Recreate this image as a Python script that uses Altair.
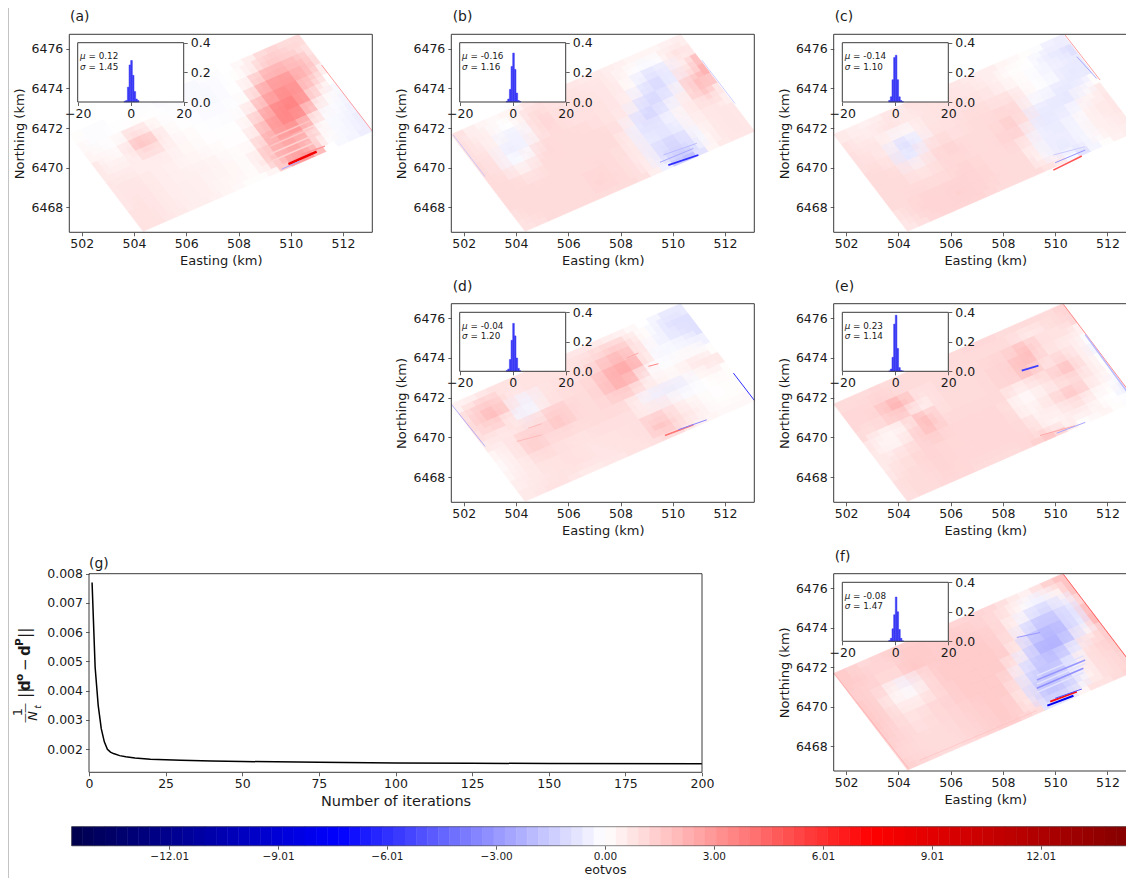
import altair as alt
import numpy as np
import pandas as pd

W, H = 1118, 870
FONT = "DejaVu Sans"
INK = "#3a3a3a"

# ---- values -----------------------------------------------------------------
corner_left = (501.525, 6471.68)
corner_top = (510.30, 6476.73)
corner_bottom = (504.35, 6466.79)
x_domain = [501.525, 513.12]
y_domain = [6466.74, 6476.73]
x_ticks = [502, 504, 506, 508, 510, 512]
y_ticks = [6468, 6470, 6472, 6474, 6476]

a_rows = [
 [.1,-.1,-.1,0,0,-.1,-.1,-.2,-.1,-.2,-.2,-.1,-.1,0,.2,.5,1,1.2,1,1],
 [.2,-.1,-.1,0,.1,.1,0,-.1,-.1,-.2,-.2,-.2,-.1,0,.2,.7,1.5,1.5,1.3,.8],
 [.3,.2,0,.4,1.5,.6,.2,0,-.1,-.1,-.2,-.2,-.1,0,.8,2.2,2.5,2.3,2,1],
 [.6,.3,.2,1,2,1.2,.3,.1,0,-.1,-.1,-.1,0,.2,1.8,2.8,3,3,1.8,.5],
 [.6,.5,.4,.5,.8,.6,.3,.2,.1,0,-.1,-.1,.2,1,2.5,3,3.5,2.8,1,0],
 [.7,.7,.6,.5,.4,.5,.3,.2,.1,.1,0,0,.5,2,3,3.8,3.5,2.5,.3,-.2],
 [.7,.7,.7,.6,.5,.4,.3,.3,.2,.1,.1,.1,1,2.5,3.2,3.5,2.8,.8,-.1,-.3],
 [.7,.8,.7,.6,.5,.4,.4,.4,.3,.2,.1,.3,1.8,2.5,2.8,2.8,1.2,0,-.2,-.4],
 [.8,.8,.7,.6,.5,.5,.4,.3,.3,.2,.1,.8,2,2.4,2.5,1.8,.3,-.1,-.3,-.5],
 [.8,.8,.7,.6,.5,.5,.4,.3,.2,.1,.1,.3,1.5,2.8,3,2,0,-.2,-.3,-.5],
]
b_rows = [
 [.8,.5,.3,.2,.3,.4,.7,.8,.8,.7,.7,.6,.6,.5,.4,.3,.3,.3,.4,.5],
 [.9,.6,.4,-.1,0,.5,1.1,.9,.8,.8,.8,.7,.7,.5,.2,-.1,-.2,.1,.8,.7],
 [.9,.8,.2,-.4,-.5,.3,1.3,1,.9,.8,.8,.8,.7,.5,0,-.8,-1,-.6,.5,1.8],
 [1,.9,-.3,-.6,-.2,.7,1,1,.9,.9,.9,.8,.7,.4,-.6,-1,-1,-.3,1.2,2.2],
 [1,.9,-.2,-.1,.5,1.2,1,1,1,1,.9,.8,.6,-.5,-1.2,-1,-.5,.4,2,1.6],
 [1,1,.7,.5,1,1,1,1,1,1,1,.9,-.3,-1.2,-1,-.5,.3,.7,1.4,.7],
 [1,1,1,.9,1,1,1,1,1,1,1,.4,-.6,-.8,-.6,-.2,.4,.7,.7,.5],
 [1,1,1,1,1,1,1,1,1.1,1,.9,.6,-.5,-.7,-.8,-.5,.3,.6,.7,.7],
 [.9,1,1,1,1,1,1,1.2,1.1,1,.9,.5,-.6,-1.2,-1.2,-.8,.1,.6,.7,.7],
 [.8,.9,1,1,1,1,1,1,1,1,.9,.5,-.4,-1.5,-1.8,-.8,.3,.6,.7,.7],
]
c_rows = [
 [.6,.5,.4,.5,.7,.6,.8,.8,.7,.7,.7,.6,.5,.5,.3,.2,.1,-.1,-.4,-.5],
 [.8,.6,.5,.7,.8,.6,.7,.8,.8,.8,.7,.7,.6,.4,.1,.1,0,-.4,-.6,-.9],
 [.9,.8,.7,.3,-.2,.2,.7,.8,.8,.9,.9,.8,.7,.5,.2,.1,-.2,-.3,-.5,-.6],
 [.9,.9,.6,-.6,-1.2,-.3,.8,.9,.9,1,1,1,.9,1,.5,0,-.1,-.3,-.7,-.6],
 [1,1,.8,-.7,-.4,.8,1.1,1,.9,1,1,1.1,1.2,1,-.2,-.3,-.5,-.8,-.4,.1],
 [1,1,1,.6,.6,1,1.2,1.2,1,1,1,1.2,1.4,.7,-.7,-.6,-.7,-.6,.2,.6],
 [1,1,1,.9,.9,1,1.1,1.1,1,1,1.1,1.3,1.1,-.3,-.7,-.5,-.4,.1,.6,.7],
 [1,1,1.1,1.1,1,1.1,1.2,1.2,1.1,1,1,1,.4,-.4,-.5,-.5,-.2,.3,.6,.7],
 [.8,1,1.2,1.2,1.2,1.3,1.2,1.2,1.1,1,1,1,.3,-.4,-.6,-.5,-.2,.3,.5,.6],
 [.7,.9,1.1,1.2,1.2,1.2,1.2,1.1,1,1,1,1,.8,.6,-.2,-.8,-.3,.1,.4,.5],
]
d_rows = [
 [.4,.5,.7,.8,.8,.8,.8,.8,.7,.7,.7,.7,.6,.5,.4,.2,0,-.3,-.6,-.6],
 [.9,1.3,1.5,1.2,.6,.8,.8,.8,.8,.8,.9,1,1.2,1.5,1.2,.4,0,-.5,-.9,-.9],
 [1,1.5,2.2,1.2,-.3,-.4,.6,.9,.9,.9,1,1.5,2,2.2,1.5,.3,-.2,-.4,-.7,-.9],
 [.9,1,1,.2,-.5,.2,.9,.9,1,1,1.3,2,2.5,2.5,1.8,0,-.3,-.1,-.2,-.4],
 [.6,.6,.6,1,1,1.2,1.8,1.2,1,1,1.3,2,2.2,1.5,-.1,-.1,0,.2,.2,.1],
 [.3,.5,1,1.5,1.2,1.3,1.6,1.1,1,1,1.1,1.2,1,.5,.6,.3,.3,.5,.8,.6],
 [.2,.4,.9,1.4,1.1,.9,.9,.9,1,1,1,.9,.2,-.4,-.5,-.6,-.4,0,.2,.1],
 [.3,.5,.7,.9,.9,.9,.8,.8,.9,.9,.9,.9,.6,.7,.6,.1,-.1,0,.1,.1],
 [.5,.6,.7,.8,.8,.9,.8,.7,.8,.8,.9,.9,1.8,1.4,.8,.6,.3,.1,.1,.1],
 [.6,.7,.8,.8,.7,.6,.6,.7,.7,.8,.8,.9,1,1,.6,.4,.3,.2,.2,.2],
]
e_rows = [
 [1,1,1,1.1,1,1,1,1,1,1,1,1.1,1.1,1.1,1,1,1,1,1,1.2],
 [1.1,1.1,1.1,1.3,1.1,1,1,1,1,1,1,1,1,1,1,.8,.6,.8,1,1.1],
 [1.1,1.1,1.2,2,2.5,1.2,.6,1,1,1,1,1.1,1.2,1.2,1.6,2.2,1,.9,.7,.4],
 [1,.9,1.1,1.3,1,.3,.7,1,1,1,1,1.1,1.2,1.3,2,1.5,.7,.7,.5,-.1],
 [.7,.3,0,.3,1.3,2.6,.9,1,1,1,1,1.1,1.2,1.2,1.8,.9,.9,1.4,.5,-.3],
 [.6,.4,.4,1,1.6,1.5,1.1,1.1,1.1,1.1,1.1,1.1,.3,.3,.5,1,1.6,1.8,.5,0],
 [.6,.8,1,1.1,1.2,1.2,1.1,1.1,1.1,1.1,1.1,.8,.1,.3,.6,.7,.9,.9,.5,.1],
 [.7,.9,1,1.2,1.2,1.1,1.1,1.1,1.1,1.1,1.1,1,.2,.6,.8,1.4,1.8,1,.3,-.2],
 [.9,1,1,1.1,1.2,1.1,1.1,1.1,1.1,1.1,1.1,1.1,.7,.3,.4,.6,.5,.2,0,-.4],
 [.9,1,1,1.1,1.1,1.1,1,1,1,1,1.1,1.3,1.6,1.2,.5,.1,.2,.3,.1,-.1],
]
f_rows = [
 [1.5,1.3,1.1,1.2,1.3,1.4,1.4,1.4,1.4,1.3,1.2,1.2,1.2,1.1,.9,.6,.4,.8,1.3,1.7],
 [1.5,1.4,1.2,1.2,1.2,1.5,1.5,1.4,1.4,1.4,1.4,1.3,1.2,1,.7,.2,-.3,-.4,.4,1.7],
 [1.4,1.3,1.2,1,1.1,1.7,1.4,1.4,1.4,1.4,1.4,1.4,1.3,1,.2,-.6,-1.3,-1.2,-.6,1.2],
 [1.5,1.3,.8,-.1,-.4,.6,1.3,1.5,1.5,1.5,1.5,1.4,1.3,.8,-.6,-1.6,-1.8,-1.6,-.9,1.8],
 [1.5,1.3,.4,.3,.2,.9,1.3,1.5,1.5,1.5,1.5,1.5,1.3,.4,-1.6,-2,-2.2,-1.8,-.6,2],
 [1.5,1.3,.9,.6,.8,1,1.2,1.4,1.5,1.5,1.5,1.4,.5,-.8,-1.8,-2.4,-2,-1.2,.4,1.4],
 [1.4,1.2,.9,.9,1.1,1.2,1.3,1.4,1.5,1.5,1.5,1,-.4,-1.4,-1.7,-1.6,-1,.2,1.2,1.4],
 [1.3,1.2,1,.9,1,1.1,1.2,1.3,1.4,1.5,1.4,.7,-1,-1.6,-1.7,-1.4,-.2,.8,1.1,1.3],
 [1.2,1.1,1,1,1,1.1,1.2,1.3,1.4,1.5,1.3,.6,-1.3,-1.7,-1.5,-1,.2,.8,1,1.2],
 [1.3,1.2,1.1,1,1,1.1,1.2,1.3,1.4,1.4,1.2,1,-.8,-.8,-.6,.3,.8,.8,1,1.2],
]

# narrow streaks: east start, east end, north start, north end, value, line width
a_streaks = [
 (509.21,510.99,6470.30,6471.31,1.3,1.5),(509.21,510.99,6470.69,6471.70,1.3,1.5),
 (509.21,510.86,6471.09,6472.03,1.6,1.5),(509.21,510.74,6471.50,6472.37,1.8,1.5),
 (509.91,510.99,6470.18,6470.81,8,2.5),(509.65,510.35,6469.92,6470.34,-2.5,1),
 (510.42,511.31,6470.67,6471.09,3,1.5),(511.18,513.12,6475.18,6471.85,3.5,.8),
]
b_streaks = [
 (509.83,510.98,6470.13,6470.64,-6,1.8),(509.51,510.79,6470.27,6470.97,-2.5,1),
 (509.64,510.92,6470.64,6471.23,-2,1),(501.6,502.82,6471.65,6469.55,-2,.7),
 (511.11,512.38,6475.43,6473.24,-2,.7),
]
c_streaks = [
 (509.93,511.02,6469.88,6470.59,5,1.5),(510.0,511.15,6470.25,6470.89,-3,1),
 (509.93,511.15,6470.64,6471.06,-1.5,1),(510.38,511.72,6476.69,6474.42,3.5,.8),
 (510.83,511.59,6475.6,6474.5,-2.5,1),
]
d_streaks = [
 (509.7,510.79,6470.1,6470.64,4,1.5),(510.21,511.3,6470.39,6470.89,-3.5,1),
 (509.07,509.45,6473.58,6473.71,3.5,1),(508.24,508.68,6474.0,6474.25,2.5,1),
 (504.03,504.98,6469.8,6470.13,2,1),(504.47,504.98,6470.47,6470.69,2,1),
 (512.32,513.12,6473.24,6471.87,-6,1),(501.54,502.82,6471.65,6469.55,-3,.7),
]
e_streaks = [
 (508.72,509.36,6473.36,6473.61,-5.5,1.8),(509.42,510.76,6470.1,6470.59,2.5,1),
 (510.06,511.15,6470.22,6470.76,-2.5,1),(510.32,513.02,6476.69,6471.98,4,.8),
 (511.15,512.74,6475.18,6472.32,-2,1.5),
]
f_streaks = [
 (509.3,511.08,6470.72,6471.73,-.8,1.5),(509.3,511.15,6471.14,6472.18,-.8,1.5),
 (509.3,511.08,6471.56,6472.57,-.9,1.5),(509.3,511.08,6470.93,6471.94,-3.2,1.5),
 (509.3,511.15,6471.35,6472.36,-3,1.5),(508.53,509.42,6473.5,6473.75,-3,1),
 (509.7,510.7,6470.05,6470.55,-8,2),(509.81,510.83,6470.25,6470.76,7,2),
 (510,511.02,6470.42,6470.89,-5,1),(510.32,513.02,6476.69,6471.98,4.5,1),
 (501.54,504.39,6471.68,6466.86,2.5,.7),(504.83,509.3,6467.28,6469.8,1.8,.7),
]

hist_edges = [-2.5,-1.875,-1.25,-.625,0,.625,1.25,1.875,2.5,3.125]
a_hist = [.005,.01,.1,.25,.28,.18,.07,.02,.01]
b_hist = [.005,.02,.085,.24,.33,.22,.06,.01,.003]
c_hist = [.01,.035,.15,.30,.315,.15,.035,.01,.002]
d_hist = [.005,.015,.08,.21,.325,.24,.09,.02,.003]
e_hist = [.002,.015,.095,.32,.38,.155,.025,.005,.002]
f_hist = [.005,.02,.085,.18,.30,.2,.08,.02,.003]

iterations = [1,2,3,4,5,6,7,8,10,12,15,20,25,30,40,50,75,100,125,150,200]
misfit = [.0077,.0048,.0035,.0027,.00225,.0020,.0019,.00185,.00178,.00174,.0017,
          .00166,.00164,.00162,.0016,.00158,.00155,.00153,.00152,.00151,.0015]
g_xticks = [0,25,50,75,100,125,150,175,200]
g_yticks = [.002,.003,.004,.005,.006,.007,.008]

cb_ticks = [-12.01,-9.01,-6.01,-3.00,0.00,3.00,6.01,9.01,12.01]

panels = [
 ("(a)",a_rows,a_streaks,a_hist,"0.12","1.45",69.3,34.3,232.3,77.7,42.7,102.0,70,16.7),
 ("(b)",b_rows,b_streaks,b_hist,"-0.16","1.16",451.3,34.3,232.3,459.7,42.7,102.0,452.7,16.7),
 ("(c)",c_rows,c_streaks,c_hist,"-0.14","1.10",833.7,34.3,232.3,842.3,42.7,102.0,834.7,16.7),
 ("(d)",d_rows,d_streaks,d_hist,"-0.04","1.20",451.3,303.7,502.3,459.7,312.3,371.3,452.7,286.7),
 ("(e)",e_rows,e_streaks,e_hist,"0.23","1.14",833.7,303.7,502.3,842.3,312.3,371.3,834.7,286.7),
 ("(f)",f_rows,f_streaks,f_hist,"-0.08","1.47",833.7,573.7,771.0,842.3,582.3,641.3,834.7,556.7),
]

# ---- helpers ----------------------------------------------------------------
OFF = 8  # the page margin: picture pixels -> chart pixels
PANEL_W, INSET_W = 303, 106
BLUR = 2.0  # soft second pass of each map cell

color_scale = alt.Scale(domain=[-14.7,-7.35,0,7.35,14.7],
                        range=["#00004d","#0000ff","#ffffff","#ff0000","#800000"],
                        interpolate="rgb")
col = alt.Color("v:Q", scale=color_scale, legend=None)
stk = alt.Stroke("v:Q", scale=color_scale, legend=None)


def axis_bottom(bottom, vals, title=None, fmt="d", pad=2, tpad=4, tsize=13):
    kw = dict(orient="bottom", offset=bottom - OFF - H, values=vals, format=fmt, grid=False, domain=False,
              ticks=True, tickSize=3.5, tickColor=INK, tickWidth=.8, labelPadding=pad, labelFontSize=12.5,
              labelFont=FONT, labelColor="#1a1a1a", labelFlush=False, labelOverlap=False, labelBound=False,
              zindex=2, titleFont=FONT, titleFontSize=tsize, titleFontWeight="normal", titleColor="#1a1a1a",
              titlePadding=tpad)
    kw["title"] = title if title else ""
    return alt.Axis(**kw)


def axis_left(left, vals, title=None, fmt="d", tpad=4):
    return alt.Axis(orient="left", offset=OFF - left, values=vals, format=fmt, grid=False, domain=False,
                    ticks=True, tickSize=3.5, tickColor=INK, tickWidth=.8, labelPadding=3, labelFontSize=12.5,
                    labelFont=FONT, labelColor="#1a1a1a", labelFlush=False, labelOverlap=False, labelBound=False,
                    zindex=2, title=title if title else "", titleFont=FONT, titleFontSize=13,
                    titleFontWeight="normal", titleColor="#1a1a1a", titlePadding=tpad)


def axis_right(right, vals):
    return alt.Axis(orient="right", offset=right - OFF - W, values=vals, format=".1f", grid=False, domain=False,
                    ticks=True, tickSize=3.5, tickColor=INK, tickWidth=.8, labelPadding=3, labelFontSize=12.5,
                    labelFont=FONT, labelColor="#1a1a1a", labelFlush=False, labelOverlap=False, labelBound=False,
                    zindex=2, title="")


def text_mark(s, px, py, size, **kw):
    return alt.Chart(pd.DataFrame({"t": [s]})).mark_text(font=FONT, fontSize=size, align=kw.pop("align", "left"),
                                                         baseline=kw.pop("baseline", "middle"), color="#1a1a1a",
                                                         **kw).encode(
        text="t:N", x=alt.value(px - OFF), y=alt.value(py - OFF))


def frame(xs, ys, xd, yd, width=1.0):
    df = pd.DataFrame({"a": [xd[0]], "b": [xd[1]], "c": [yd[0]], "d": [yd[1]]})
    return alt.Chart(df).mark_rect(fill="transparent", stroke=INK, strokeWidth=width).encode(
        x=alt.X("a:Q", scale=xs, axis=None), x2="b:Q",
        y=alt.Y("c:Q", scale=ys, axis=None), y2="d:Q")


def cell_path(c1, c2, c3, c4):
    return "M{:.2f},{:.2f}L{:.2f},{:.2f}L{:.2f},{:.2f}L{:.2f},{:.2f}Z".format(*c1, *c2, *c3, *c4)


layers = []
for name, rows, streaks, hist, mu, sigma, left, top, bottom, ileft, itop, ibottom, tx, ty in panels:
    xs = alt.Scale(domain=x_domain, range=[left - OFF, left + PANEL_W - OFF], zero=False)
    ys = alt.Scale(domain=y_domain, range=[bottom - OFF, top - OFF], zero=False)
    sx = PANEL_W / (x_domain[1] - x_domain[0])
    sy = (bottom - top) / (y_domain[1] - y_domain[0])
    nr, nc = len(rows), len(rows[0])
    ue = np.array([corner_top[0] - corner_left[0], corner_top[1] - corner_left[1]])
    ve = np.array([corner_bottom[0] - corner_left[0], corner_bottom[1] - corner_left[1]])
    recs, inner = [], []
    for r, row in enumerate(rows):
        for k, val in enumerate(row):
            p = np.array(corner_left) + (k + .5) / nc * ue + (r + .5) / nr * ve
            recs.append({"x": p[0], "y": p[1], "v": val})
            if 0 < r < nr - 1 and 0 < k < nc - 1:
                inner.append({"x": p[0], "y": p[1], "v": val})
    up = np.array([ue[0] * sx, -ue[1] * sy]) / nc / 2
    vp = np.array([ve[0] * sx, -ve[1] * sy]) / nr / 2
    cell = cell_path(-up - vp, up - vp, up + vp, -up + vp)
    soft = cell_path(BLUR * (-up - vp), BLUR * (up - vp), BLUR * (up + vp), BLUR * (-up + vp))
    layers.append(alt.Chart(pd.DataFrame(recs)).mark_point(shape=cell, filled=True, size=4, opacity=1,
                                                           strokeWidth=.7).encode(
        x=alt.X("x:Q", scale=xs, axis=axis_bottom(bottom, x_ticks, "Easting (km)")),
        y=alt.Y("y:Q", scale=ys, axis=axis_left(left, y_ticks, "Northing (km)")),
        color=col, stroke=stk))
    layers.append(alt.Chart(pd.DataFrame(inner)).mark_point(shape=soft, filled=True, size=4, opacity=.4,
                                                            strokeWidth=0).encode(
        x=alt.X("x:Q", scale=xs, axis=None), y=alt.Y("y:Q", scale=ys, axis=None), color=col))
    sdf = pd.DataFrame(streaks, columns=["x", "x2", "y", "y2", "v", "w"])
    layers.append(alt.Chart(sdf).mark_rule().encode(
        x=alt.X("x:Q", scale=xs, axis=None), x2="x2:Q",
        y=alt.Y("y:Q", scale=ys, axis=None), y2="y2:Q",
        color=col, size=alt.Size("w:Q", scale=None, legend=None)))
    layers.append(frame(xs, ys, x_domain, y_domain))

    ixs = alt.Scale(domain=[-20, 20], range=[ileft - OFF, ileft + INSET_W - OFF], zero=False)
    iys = alt.Scale(domain=[0, .4], range=[ibottom - OFF, itop - OFF], zero=False)
    bg = pd.DataFrame({"a": [-20], "b": [20], "c": [0], "d": [.4]})
    layers.append(alt.Chart(bg).mark_rect(fill="white").encode(
        x=alt.X("a:Q", scale=ixs, axis=None), x2="b:Q", y=alt.Y("c:Q", scale=iys, axis=None), y2="d:Q"))
    hdf = pd.DataFrame({"l": hist_edges[:-1], "h": hist_edges[1:], "p": hist, "z": [0] * len(hist)})
    layers.append(alt.Chart(hdf).mark_rect(fill="#3a3af5", stroke="#3a3af5", strokeWidth=.5).encode(
        x=alt.X("l:Q", scale=ixs, axis=axis_bottom(ibottom, [-20, 0, 20], None, pad=1.5)), x2="h:Q",
        y=alt.Y("p:Q", scale=iys, axis=axis_right(ileft + INSET_W, [0, .2, .4])), y2="z:Q"))
    layers.append(frame(ixs, iys, [-20, 20], [0, .4]))
    layers.append(text_mark("\u03bc", ileft + 2.4, itop + 13.7, 8.8, fontStyle="italic"))
    layers.append(text_mark("= " + mu, ileft + 10.8, itop + 13.7, 8.8))
    layers.append(text_mark("\u03c3", ileft + 2.4, itop + 24, 8.8, fontStyle="italic"))
    layers.append(text_mark("= " + sigma, ileft + 10.8, itop + 24, 8.8))
    layers.append(text_mark(name, tx, ty + .6, 13.9))

# ---- panel (g) ---------------------------------------------------------------
gx = alt.Scale(domain=[0, 200], range=[89 - OFF, 702 - OFF], zero=False)
gy = alt.Scale(domain=[.00121, .008], range=[772.3 - OFF, 573.7 - OFF], zero=False)
layers.append(alt.Chart(pd.DataFrame({"i": iterations, "m": misfit})).mark_line(color="black", strokeWidth=1.5).encode(
    x=alt.X("i:Q", scale=gx, axis=axis_bottom(772.3, g_xticks, "Number of iterations", tpad=4, tsize=14.5)),
    y=alt.Y("m:Q", scale=gy, axis=axis_left(89, g_yticks, None, fmt=".3f"))))
layers.append(frame(gx, gy, [0, 200], [.00121, .008]))
layers.append(text_mark("(g)", 89, 564, 13.9))
# the y label of (g), rotated piece by piece
layers.append(text_mark("1", 17.5, 712, 13, angle=270, align="center"))
layers.append(text_mark("\u2014\u2014", 25, 713, 10, angle=270, align="center"))
layers.append(text_mark("N", 33, 716, 13, angle=270, align="center", fontStyle="italic"))
layers.append(text_mark("t", 37.5, 707, 9, angle=270, align="center", fontStyle="italic"))
for s, py, size, kw in [("||", 698, 15.5, {}), ("d", 691, 15, {"fontWeight": "bold"}),
                        ("o", 681, 10.5, {"fontWeight": "bold", "_x": 20}), ("\u2212", 671, 15, {}),
                        ("d", 656, 15, {"fontWeight": "bold"}), ("P", 646, 10.5, {"fontWeight": "bold", "_x": 20}),
                        ("||", 638, 15.5, {})]:
    kw = dict(kw)
    px = kw.pop("_x", 24.5)
    layers.append(text_mark(s, px, py, size, angle=270, **kw))

# ---- colour bar --------------------------------------------------------------
cbx = alt.Scale(domain=[-14.7, 14.7], range=[71.7 - OFF, 1138.3 - OFF], zero=False)
cby = alt.Scale(domain=[0, 1], range=[845.7 - OFF, 826.7 - OFF], zero=False)
levels = np.linspace(-14.7, 14.7, 97)
cb = pd.DataFrame({"l": levels[:-1], "h": levels[1:], "v": (levels[:-1] + levels[1:]) / 2, "a": 0, "b": 1})
layers.append(alt.Chart(cb).mark_rect(strokeWidth=.5).encode(
    x=alt.X("l:Q", scale=cbx, axis=alt.Axis(orient="bottom", offset=845.7 - OFF - H, values=cb_ticks, format=".2f",
                                            grid=False, domain=False, tickSize=3.5, tickColor=INK, tickWidth=.8,
                                            labelPadding=2, labelFontSize=10.5, labelFont=FONT, labelColor="#1a1a1a",
                                            labelFlush=False, labelOverlap=False, labelBound=False, zindex=2,
                                            title="eotvos", titleFont=FONT, titleFontSize=12.6,
                                            titleFontWeight="normal", titleColor="#1a1a1a", titlePadding=2)),
    x2="h:Q", y=alt.Y("a:Q", scale=cby, axis=None), y2="b:Q", color=col, stroke=stk))
layers.append(frame(cbx, cby, [-14.7, 14.7], [0, 1], width=.6))

# the hairline along the left of the picture
layers.append(alt.Chart(pd.DataFrame({"t": [0]})).mark_rule(color="#c4c4c4", strokeWidth=1).encode(
    x=alt.value(.5), y=alt.value(0), y2=alt.value(H)))

chart = alt.layer(*layers).resolve_scale(x="independent", y="independent").properties(
    width=W, height=H, padding=0, autosize=alt.AutoSizeParams(type="none"), background="white"
).configure_view(stroke=None)

chart.save("out.html", embed_options={"renderer": "svg", "actions": False})
